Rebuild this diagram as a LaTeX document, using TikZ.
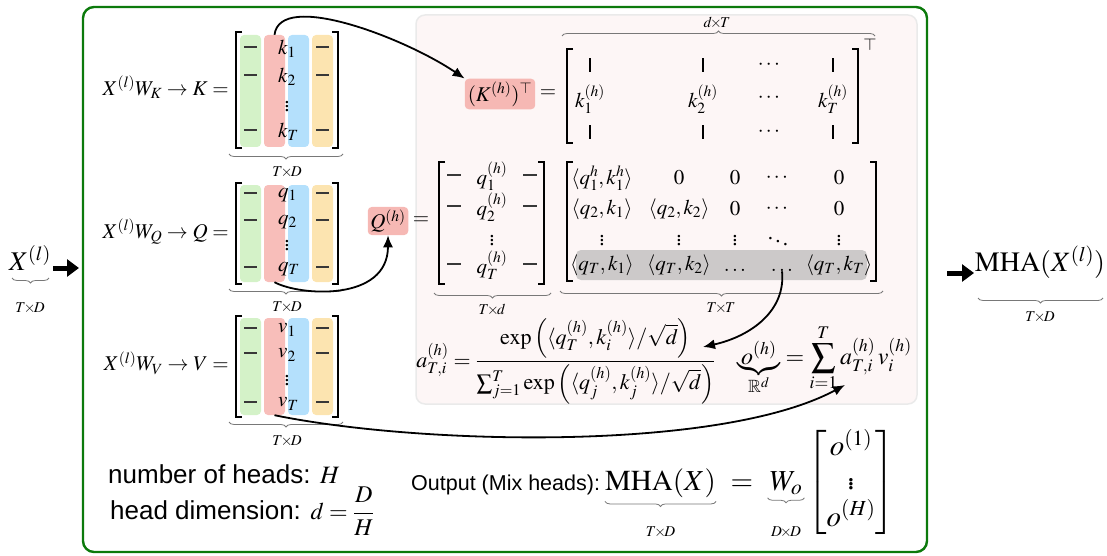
\documentclass[tikz,border=0pt]{standalone}
\usepackage{amsmath}
\usepackage{amssymb}
\usepackage{mathptmx}
\usepackage{fontspec}
\setmainfont{Liberation Serif}
\newfontfamily\helv{Liberation Sans}
\usetikzlibrary{arrows.meta,decorations.pathreplacing}
\definecolor{framegreen}{RGB}{12,122,12}
\definecolor{panelfill}{RGB}{253,246,246}
\definecolor{paneldraw}{RGB}{234,234,234}
\definecolor{hlpink}{RGB}{246,184,180}
\definecolor{cgreen}{RGB}{212,242,200}
\definecolor{cred}{RGB}{248,190,186}
\definecolor{cblue}{RGB}{180,224,252}
\definecolor{corange}{RGB}{252,228,176}
\definecolor{rowgray}{RGB}{204,201,201}
\definecolor{bracegray}{RGB}{120,120,120}
\newcommand{\dimlab}[2]{$#1\mkern-2mu{\times}\mkern-2mu#2$}
\begin{document}
\begin{tikzpicture}[x=1pt,y=-1pt,
  mtx/.style={font=\fontsize{21}{25}\selectfont, inner sep=0pt},
  bigm/.style={font=\fontsize{22}{26}\selectfont, inner sep=0pt},
  mham/.style={font=\fontsize{29}{34}\selectfont, inner sep=0pt},
  lbl/.style={font=\fontsize{15}{17}\selectfont, inner sep=0pt},
  barcol/.style={rounded corners=4pt, inner sep=0pt, draw=none, minimum width=21pt},
  brk/.style={line width=1.4pt, black},
  dsh/.style={line width=1.5pt, black!78},
  vbar/.style={inner sep=0pt},
  ubrace/.style={decorate, decoration={brace, amplitude=5pt, mirror}, bracegray, line width=0.8pt},
  obrace/.style={decorate, decoration={brace, amplitude=5pt}, bracegray, line width=0.8pt},
  curvearrow/.style={line width=1.8pt, -{Latex[length=12pt,width=10pt]}},
  blockarrow/.style={line width=5pt, -{Triangle[length=12pt,width=17pt]}},
  hl/.style={fill=hlpink, rounded corners=4pt, inner sep=3pt},
  sanstext/.style={font=\helv\fontsize{26}{30}\selectfont, inner sep=0pt},
]
\useasboundingbox (0,0) rectangle (1107,556);

% frame and panel
\draw[framegreen, line width=2.4pt, rounded corners=11pt] (83,7) rectangle (927,552);
\draw[paneldraw, fill=panelfill, line width=1.5pt, rounded corners=9pt] (416,15) rectangle (917,404);

% input and output
\node[font=\fontsize{27}{30}\selectfont, inner sep=0pt] (Xin) at (30,258) {$X^{(l)}$};
\draw[ubrace] (12,278) -- (49,278);
\node[lbl] (XinDim) at (30,308) {\dimlab{T}{D}};
\coordinate (la1) at (53,268);
\coordinate (la2) at (79,268);
\draw[blockarrow] (la1) -- (la2);

\node[font=\fontsize{28}{31}\selectfont, inner sep=0pt] (Mout) at (1040,262) {$\mathrm{MHA}(X^{(l)})$};
\draw[ubrace] (978,298) -- (1103,298);
\node[lbl] (MoutDim) at (1040,317) {\dimlab{T}{D}};
\coordinate (ra1) at (947,273);
\coordinate (ra2) at (974,273);
\draw[blockarrow] (ra1) -- (ra2);

% ---------- K matrix
\node[mtx, anchor=east] (lK) at (229,87) {$X^{(l)}W_K \to K =$};
\node[barcol, fill=cgreen, minimum height=112pt] (Kg) at (250.5,91) {};
\node[barcol, fill=cred, minimum height=112pt] (Kr) at (274.5,91) {};
\node[barcol, fill=cblue, minimum height=112pt] (Kb) at (298.5,91) {};
\node[barcol, fill=corange, minimum height=112pt] (Ko) at (322.5,91) {};
\draw[brk] (242,32) -- (236,32) -- (236,148) -- (242,148);
\draw[brk] (332,32) -- (338,32) -- (338,148) -- (332,148);
\foreach \yy in {47,75,130} {\draw[dsh] (244,\yy) -- (257,\yy); \draw[dsh] (316,\yy) -- (329,\yy);}
\node[mtx, anchor=west] (k1) at (278,49) {$k_1$};
\node[mtx, anchor=west] (k2) at (278,77) {$k_2$};
\node[mtx] (kd) at (287,104) {$\vdots$};
\node[mtx, anchor=west] (kT) at (278,132) {$k_T$};
\draw[ubrace] (229,154) -- (343,154);
\node[lbl] (Kdim) at (287,172) {\dimlab{T}{D}};

% ---------- Q matrix
\node[mtx, anchor=east] (lQ) at (229,232) {$X^{(l)}W_Q \to Q =$};
\node[barcol, fill=cgreen, minimum height=97pt] (Qg) at (250.5,233.5) {};
\node[barcol, fill=cred, minimum height=97pt] (Qr) at (274.5,233.5) {};
\node[barcol, fill=cblue, minimum height=97pt] (Qb) at (298.5,233.5) {};
\node[barcol, fill=corange, minimum height=97pt] (Qo) at (322.5,233.5) {};
\draw[brk] (242,183) -- (236,183) -- (236,284) -- (242,284);
\draw[brk] (332,183) -- (338,183) -- (338,284) -- (332,284);
\foreach \yy in {193,220,267} {\draw[dsh] (244,\yy) -- (257,\yy); \draw[dsh] (316,\yy) -- (329,\yy);}
\node[mtx, anchor=west] (q1) at (278,195) {$q_1$};
\node[mtx, anchor=west] (q2) at (278,222) {$q_2$};
\node[mtx] (qd) at (287,243) {$\vdots$};
\node[mtx, anchor=west] (qT) at (278,269) {$q_T$};
\draw[ubrace] (229,289) -- (343,289);
\node[lbl] (Qdim) at (287,307) {\dimlab{T}{D}};

% ---------- V matrix
\node[mtx, anchor=east] (lV) at (229,363) {$X^{(l)}W_V \to V =$};
\node[barcol, fill=cgreen, minimum height=97pt] (Vg) at (250.5,366.5) {};
\node[barcol, fill=cred, minimum height=97pt] (Vr) at (274.5,366.5) {};
\node[barcol, fill=cblue, minimum height=97pt] (Vb) at (298.5,366.5) {};
\node[barcol, fill=corange, minimum height=97pt] (Vo) at (322.5,366.5) {};
\draw[brk] (242,316) -- (236,316) -- (236,417) -- (242,417);
\draw[brk] (332,316) -- (338,316) -- (338,417) -- (332,417);
\foreach \yy in {328,353,402} {\draw[dsh] (244,\yy) -- (257,\yy); \draw[dsh] (316,\yy) -- (329,\yy);}
\node[mtx, anchor=west] (v1) at (278,330) {$v_1$};
\node[mtx, anchor=west] (v2) at (278,355) {$v_2$};
\node[mtx] (vd) at (287,378) {$\vdots$};
\node[mtx, anchor=west] (vT) at (278,404) {$v_T$};
\draw[ubrace] (229,422) -- (343,422);
\node[lbl] (Vdim) at (287,441) {\dimlab{T}{D}};

% ---------- K transpose
\node[mtx, hl] (KT) at (500,94) {$(K^{(h)})^{\top}$};
\node[mtx] (eqK) at (548,94) {$=$};
\draw[brk] (573,49) -- (567,49) -- (567,143) -- (573,143);
\draw[brk] (852,49) -- (858,49) -- (858,143) -- (852,143);
\node[font=\fontsize{17}{19}\selectfont, inner sep=0pt] (KTsup) at (870,45) {$\top$};
\draw[obrace] (562,36) -- (875,36);
\node[lbl] (KTdim) at (717,23) {\dimlab{d}{T}};
\foreach \xx/\nm in {590/a,703/b,833/d} {
  \node[vbar] (kt1\nm) at (\xx,65) {\rule{1.3pt}{14pt}};
  \node[vbar] (kt3\nm) at (\xx,132) {\rule{1.3pt}{14pt}};
}
\node[mtx] (kt1c) at (770,65) {$\cdots$};
\node[mtx] (kt3c) at (770,132) {$\cdots$};
\node[mtx] (kt2a) at (590,99) {$k_1^{(h)}$};
\node[mtx] (kt2b) at (703,99) {$k_2^{(h)}$};
\node[mtx] (kt2c) at (770,98) {$\cdots$};
\node[mtx] (kt2d) at (833,99) {$k_T^{(h)}$};

% ---------- Q^(h)
\node[mtx, hl, inner sep=2.5pt] (Qh) at (388,221) {$Q^{(h)}$};
\node[mtx] (eqQ) at (421,221) {$=$};
\draw[brk] (445,162) -- (439,162) -- (439,284) -- (445,284);
\draw[brk] (538,162) -- (544,162) -- (544,284) -- (538,284);
\foreach \yy in {175,206,264} {\draw[dsh] (447,\yy) -- (461,\yy); \draw[dsh] (523,\yy) -- (537,\yy);}
\node[mtx] (qh1) at (492,176) {$q_1^{(h)}$};
\node[mtx] (qh2) at (492,207) {$q_2^{(h)}$};
\node[mtx] (qhd) at (492,238) {$\vdots$};
\node[mtx] (qhT) at (492,265) {$q_T^{(h)}$};
\draw[ubrace] (434,293) -- (551,293);
\node[lbl] (Qhdim) at (492,310) {\dimlab{T}{d}};

% ---------- score matrix
\fill[rowgray, rounded corners=5pt] (576,250) rectangle (867,280);
\draw[brk] (573,162) -- (567,162) -- (567,281) -- (573,281);
\draw[brk] (870,162) -- (876,162) -- (876,281) -- (870,281);
\node[mtx] (s11) at (602,178) {$\langle q_1^h, k_1^h\rangle$};
\node[mtx] (s12) at (679,178) {$0$};
\node[mtx] (s13) at (735,178) {$0$};
\node[mtx] (s14) at (778,178) {$\cdots$};
\node[mtx] (s15) at (839,178) {$0$};
\node[mtx] (s21) at (602,209) {$\langle q_2, k_1\rangle$};
\node[mtx] (s22) at (679,209) {$\langle q_2, k_2\rangle$};
\node[mtx] (s23) at (735,209) {$0$};
\node[mtx] (s24) at (778,209) {$\cdots$};
\node[mtx] (s25) at (839,209) {$0$};
\node[mtx] (s31) at (602,238) {$\vdots$};
\node[mtx] (s32) at (679,238) {$\vdots$};
\node[mtx] (s33) at (735,238) {$\vdots$};
\node[mtx] (s34) at (778,238) {$\ddots$};
\node[mtx] (s35) at (839,238) {$\vdots$};
\node[mtx] (s41) at (602,265) {$\langle q_T, k_1\rangle$};
\node[mtx] (s42) at (679,265) {$\langle q_T, k_2\rangle$};
\node[mtx] (s43) at (735,270) {$\ldots$};
\node[mtx] (s44) at (782,270) {$\ldots$};
\node[mtx] (s45) at (839,265) {$\langle q_T, k_T\rangle$};
\draw[ubrace] (560,291) -- (883,291);
\node[lbl] (Sdim) at (721,308) {\dimlab{T}{T}};

% ---------- attention weight and output
\node[bigm, anchor=base] (att) at (566,367) {$a^{(h)}_{T,i} = \dfrac{\exp\left(\langle q_T^{(h)}, k_i^{(h)}\rangle/\sqrt{d}\right)}{\sum_{j=1}^{T}\exp\left(\langle q_j^{(h)}, k_j^{(h)}\rangle/\sqrt{d}\right)}$};
\node[font=\fontsize{24}{28}\selectfont, inner sep=0pt, anchor=base west] (ofm) at (737,364) {$\underbrace{o^{(h)}}_{\mathbb{R}^d} = \displaystyle\sum_{i=1}^{T} a^{(h)}_{T,i}\, v^{(h)}_i$};
\coordinate (numtip) at (703,347);
\coordinate (otip) at (845,385);

% ---------- bottom text
\node[sanstext, anchor=base west] (nh) at (108,483) {number of heads: {\fontsize{25}{29}\selectfont$H$}};
\node[sanstext, anchor=base west] (hd) at (110,519) {head dimension: {\fontsize{24}{28}\selectfont$d=\dfrac{D}{H}$}};
\node[font=\helv\fontsize{21.5}{26}\selectfont, inner sep=0pt, anchor=base west] (outl) at (411,490) {Output (Mix heads):};
\coordinate (lrow) at (0,532);
\node[mham, anchor=base west] (mhaL) at (605,490) {$\mathrm{MHA}(X)$};
\node[mham, anchor=base] (mhaEq) at (742,490) {$=$};
\node[mham, anchor=base] (mhaW) at (786,490) {$W_o$};
\node[mham, anchor=base] (mhaV) at (851,490) {${\setlength{\arraycolsep}{6pt}\begin{bmatrix} o^{(1)}\\ \vdots\\ o^{(H)}\end{bmatrix}}$};
\draw[ubrace] ([yshift=-4pt]mhaL.south west) -- ([yshift=-4pt]mhaL.south east);
\draw[ubrace] ([yshift=-3pt,xshift=-2pt]mhaW.south west) -- ([yshift=-3pt,xshift=2pt]mhaW.south east);
\node[lbl] (mhaDim) at (mhaL.south |- lrow) {\dimlab{T}{D}};
\node[lbl] (wDim) at (mhaW.south |- lrow) {\dimlab{D}{D}};

% ---------- curved arrows
\draw[curvearrow] (Kr.north) .. controls (280,-10) and (405,38) .. (KT.north west);
\draw[curvearrow] (Qr.south) .. controls (300,296) and (388,302) .. (Qh.south);
\draw[curvearrow] (s44.south) .. controls (786,310) and (752,336) .. (numtip);
\draw[curvearrow] (Vr.south) .. controls (420,445) and (720,452) .. (otip);
\end{tikzpicture}
\end{document}
